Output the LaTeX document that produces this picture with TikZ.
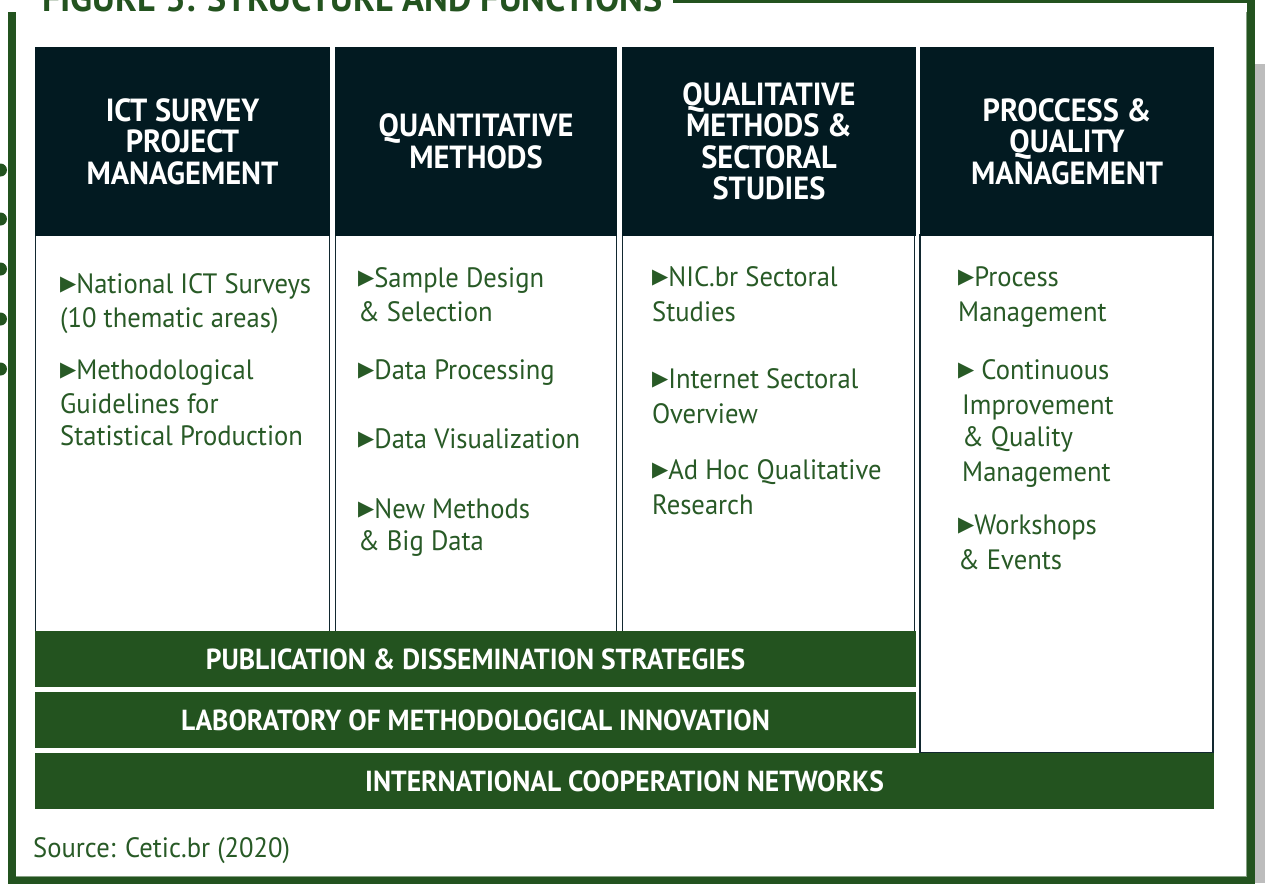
\documentclass[tikz,border=0pt]{standalone}
\usepackage{fontspec}
\setmainfont[FakeStretch=0.95]{PT Sans}
\newfontfamily\trifont{DejaVu Sans}
\definecolor{frameg}{RGB}{35,83,31}
\definecolor{headc}{RGB}{2,26,33}
\definecolor{txtg}{RGB}{40,90,38}
\definecolor{outl}{RGB}{18,40,48}
\definecolor{shadowg}{RGB}{189,189,189}
\newcommand{\tri}{\raisebox{3pt}{\trifont\fontsize{21}{21}\selectfont ▶}}
\begin{document}
\begin{tikzpicture}[x=1pt,y=-1pt,
  headbox/.style={fill=headc,text=white,inner sep=0pt,align=center,
    font=\bfseries\fontsize{32}{31.5}\selectfont,minimum height=189pt},
  bodybox/.style={fill=white,draw=outl,line width=1.5pt,inner sep=0pt},
  barbox/.style={fill=frameg,text=white,inner sep=0pt,minimum height=56pt,
    font=\bfseries\fontsize{29}{30}\selectfont},
  item/.style={anchor=base west,inner sep=0pt,text=txtg,font=\fontsize{28}{32}\selectfont},
  frameline/.style={draw=frameg,line width=8pt},
  dot/.style={fill=frameg}]
\useasboundingbox (0,0) rectangle (1265,883);
% shadow
\fill[shadowg] (1255,64) rectangle (1265,883);
% frame
\node[anchor=base west,inner sep=0pt,text=frameg,font=\bfseries\fontsize{38}{40}\selectfont] (title) at (42,12) {FIGURE 3: STRUCTURE AND FUNCTIONS};
\draw[frameline] (673,-0.5) -- (1251,-0.5) -- (1251,880) -- (11.5,880) -- (11.5,12);
\draw[frameg!55!white,line width=0.8pt] (1246.6,12) -- (1246.6,876.2) -- (16,876.2);
\foreach \yy in {170,219,269,319,369}
  \fill[dot] (0.5,\yy) circle (6.5);
% bodies
\node[bodybox,minimum width=294pt,minimum height=401pt] (b1) at (182.5,435.5) {};
\node[bodybox,minimum width=281pt,minimum height=401pt] (b2) at (476,435.5) {};
\node[bodybox,minimum width=292pt,minimum height=401pt] (b3) at (768.5,435.5) {};
\node[bodybox,minimum width=293pt,minimum height=518pt] (b4) at (1066.5,494) {};
% headers
\node[headbox,minimum width=295pt] (h1) at (182.5,141.5) {ICT SURVEY\\PROJECT\\MANAGEMENT};
\node[headbox,minimum width=282pt] (h2) at (476,141.5) {QUANTITATIVE\\METHODS};
\node[headbox,minimum width=294pt] (h3) at (769,141.5) {QUALITATIVE\\METHODS \&\\SECTORAL\\STUDIES};
\node[headbox,minimum width=294pt] (h4) at (1067,141.5) {PROCCESS \&\\QUALITY\\MANAGEMENT};
% bars
\node[barbox,minimum width=881pt] (pub) at (475.5,659) {PUBLICATION \& DISSEMINATION STRATEGIES};
\node[barbox,minimum width=881pt] (lab) at (475.5,720) {LABORATORY OF METHODOLOGICAL INNOVATION};
\node[barbox,minimum width=1179pt] (int) at (624.5,781) {INTERNATIONAL COOPERATION NETWORKS};
% column 1
\node[item] (a1) at (60,293) {\tri National ICT Surveys};
\node[item] (a2) at (60,327) {(10 thematic areas)};
\node[item] (a3) at (60,379) {\tri Methodological};
\node[item] (a4) at (60,413) {Guidelines for};
\node[item] (a5) at (60,445) {Statistical Production};
% column 2
\node[item] (q1) at (358,287) {\tri Sample Design};
\node[item] (q2) at (358,321) {\& Selection};
\node[item] (q3) at (358,379) {\tri Data Processing};
\node[item] (q4) at (358,448) {\tri Data Visualization};
\node[item] (q5) at (358,518) {\tri New Methods};
\node[item] (q6) at (358,550) {\& Big Data};
% column 3
\node[item] (s1) at (652,286) {\tri NIC.br Sectoral};
\node[item] (s2) at (652,321) {Studies};
\node[item] (s3) at (652,388) {\tri Internet Sectoral};
\node[item] (s4) at (652,423) {Overview};
\node[item] (s5) at (652,479) {\tri Ad Hoc Qualitative};
\node[item] (s6) at (652,514) {Research};
% column 4
\node[item] (p1) at (958,286) {\tri Process};
\node[item] (p2) at (958,321) {Management};
\node[item] (p3) at (958,379) {\tri{} Continuous};
\node[item] (p4) at (962,414) {Improvement};
\node[item] (p5) at (962,446) {\& Quality};
\node[item] (p6) at (962,481) {Management};
\node[item] (p7) at (958,534) {\tri Workshops};
\node[item] (p8) at (958,569) {\& Events};
% source
\node[item] (src) at (33,857) {Source: Cetic.br (2020)};
\end{tikzpicture}
\end{document}
